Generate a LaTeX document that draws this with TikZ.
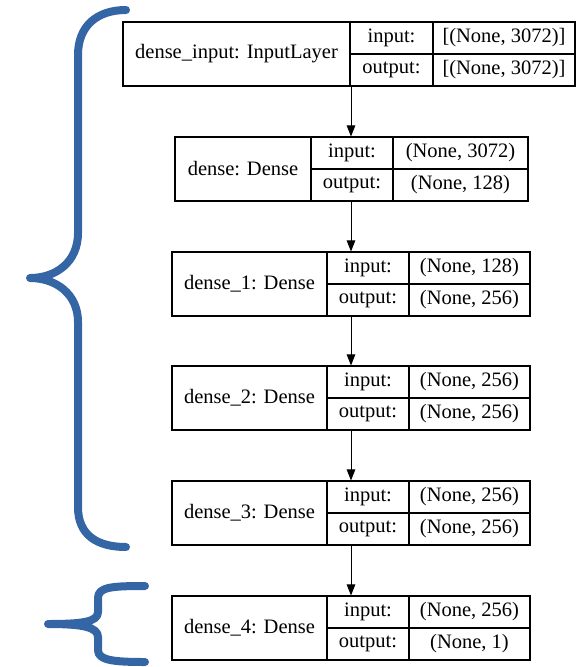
\documentclass[tikz,border=0pt]{standalone}
\usepackage{fontspec}
\setmainfont{Liberation Serif}
\usetikzlibrary{arrows.meta}
\definecolor{bracecol}{RGB}{52,101,164}
\tikzset{
  cell/.style={draw=black, line width=1.1pt, inner sep=0pt, font=\fontsize{20.5}{24}\selectfont, anchor=center},
  arr/.style={draw=black, line width=1pt, -{Triangle[length=11pt,width=8.5pt]}},
  bracestroke/.style={draw=bracecol, line width=8pt, line cap=round, line join=round},
}
% #1 name, #2 top y, #3 x0, #4 x1, #5 x2, #6 x3, #7 label, #8 in, #9 out
\newcommand\mklayer[9]{%
  \node[cell, minimum width={(#4-#3)*1pt}, minimum height=64pt] (#1) at ({(#3+#4)/2},{#2+32}) {#7};
  \node[cell, minimum width={(#5-#4)*1pt}, minimum height=32pt] (#1i) at ({(#4+#5)/2},{#2+16}) {input:};
  \node[cell, minimum width={(#6-#5)*1pt}, minimum height=32pt] (#1iv) at ({(#5+#6)/2},{#2+16}) {#8};
  \node[cell, minimum width={(#5-#4)*1pt}, minimum height=32pt] (#1o) at ({(#4+#5)/2},{#2+48}) {output:};
  \node[cell, minimum width={(#6-#5)*1pt}, minimum height=32pt] (#1ov) at ({(#5+#6)/2},{#2+48}) {#9};
}
\begin{document}
\begin{tikzpicture}[x=1pt,y=-1pt]
\useasboundingbox (0,0) rectangle (577,667);
\mklayer{L0}{22}{123}{350}{433}{575}{dense\_input: InputLayer}{[(None, 3072)]}{[(None, 3072)]}
\mklayer{L1}{137}{175}{311}{393}{528}{dense: Dense}{(None, 3072)}{(None, 128)}
\mklayer{L2}{252}{172}{327}{409}{530}{dense\_1: Dense}{(None, 128)}{(None, 256)}
\mklayer{L3}{366}{172}{327}{409}{530}{dense\_2: Dense}{(None, 256)}{(None, 256)}
\mklayer{L4}{481}{172}{327}{409}{530}{dense\_3: Dense}{(None, 256)}{(None, 256)}
\mklayer{L5}{596}{172}{327}{409}{530}{dense\_4: Dense}{(None, 256)}{(None, 1)}
\coordinate (ax) at (351,0);
\draw[arr] (ax |- L0o.south) -- (ax |- L1.north);
\draw[arr] (ax |- L1o.south) -- (ax |- L2.north);
\draw[arr] (ax |- L2o.south) -- (ax |- L3.north);
\draw[arr] (ax |- L3o.south) -- (ax |- L4.north);
\draw[arr] (ax |- L4o.south) -- (ax |- L5.north);
% big brace
\draw[bracestroke] (126,10) .. controls (97,10) and (78,26) .. (78,55) -- (78,233)
  .. controls (78,262) and (56,278) .. (30,278)
  .. controls (56,278) and (78,294) .. (78,322) -- (78,507)
  .. controls (78,535) and (97,547) .. (126,547);
% small brace
\draw[bracestroke] (145,586) .. controls (112,586) and (98,587) .. (98,598) -- (98,612)
  .. controls (98,622) and (82,624) .. (48,624)
  .. controls (82,624) and (98,627) .. (98,637) -- (98,650)
  .. controls (98,660) and (112,662) .. (145,662);
\end{tikzpicture}
\end{document}
